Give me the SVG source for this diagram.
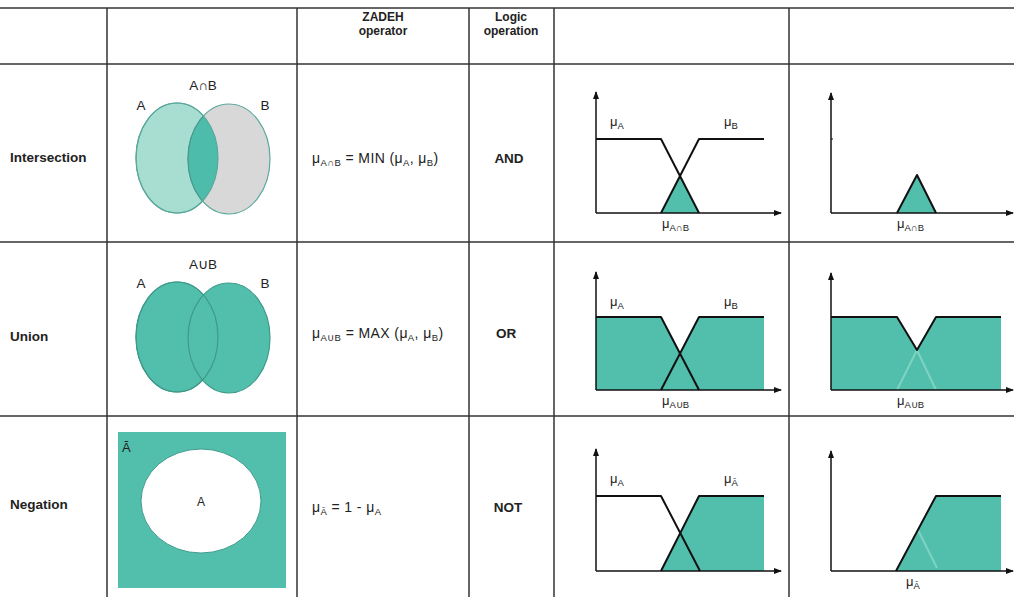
<svg xmlns="http://www.w3.org/2000/svg" width="1014" height="597" viewBox="0 0 1014 597">
<style>
text{font-family:"Liberation Sans",Arial,sans-serif;fill:#222}
.hd{font-size:12px;font-weight:bold;text-anchor:middle}
.rl{font-size:13.5px;font-weight:bold}
.op{font-size:13.5px;font-weight:bold;text-anchor:middle}
.fm{font-size:14px;letter-spacing:0.4px}
.sub{font-size:9.5px}
.lb{font-size:13px}
.vl{font-size:13.5px;text-anchor:middle}
.grid line{stroke:#333;stroke-width:1.5}
.ax{stroke:#111;stroke-width:1.5;fill:none}
.cv{stroke:#111;stroke-width:2;fill:none;stroke-linejoin:round}
.fl{fill:#52bfac;stroke:none}
.faint{stroke:#7fd3c3;stroke-width:2;fill:none}
</style>
<defs>
<marker id="ar" markerWidth="8" markerHeight="8" refX="7" refY="4" orient="auto" markerUnits="userSpaceOnUse">
<path d="M0,1 L8,4 L0,7 Z" fill="#111"/>
</marker>
<clipPath id="cA"><ellipse cx="177" cy="158" rx="41" ry="55"/></clipPath>
</defs>
<rect width="1014" height="597" fill="#fff"/>
<g id="grid" class="grid">
<line x1="0" y1="8" x2="1014" y2="8"/>
<line x1="0" y1="64" x2="1014" y2="64"/>
<line x1="0" y1="242" x2="1014" y2="242"/>
<line x1="0" y1="416" x2="1014" y2="416"/>
<line x1="107" y1="8" x2="107" y2="597"/>
<line x1="297" y1="8" x2="297" y2="597"/>
<line x1="469" y1="8" x2="469" y2="597"/>
<line x1="554" y1="8" x2="554" y2="597"/>
<line x1="789" y1="8" x2="789" y2="597"/>
</g>
<g id="header">
<text class="hd" x="383" y="21">ZADEH</text>
<text class="hd" x="383" y="35">operator</text>
<text class="hd" x="511" y="21">Logic</text>
<text class="hd" x="511" y="35">operation</text>
</g>
<g id="row-labels">
<text class="rl" x="10" y="162">Intersection</text>
<text class="rl" x="10" y="341">Union</text>
<text class="rl" x="10" y="509">Negation</text>
</g>
<g id="venn-intersection">
<ellipse cx="177" cy="158" rx="41" ry="55" fill="#a8ddd2" stroke="#5aa99b" stroke-width="1.2"/>
<ellipse cx="229" cy="159" rx="41" ry="55" fill="#d8d8d8" stroke="#5aa99b" stroke-width="1.2"/>
<ellipse cx="229" cy="159" rx="41" ry="55" fill="#4dbcaa" stroke="#4a9a8c" stroke-width="1.2" clip-path="url(#cA)"/>
<ellipse cx="177" cy="158" rx="41" ry="55" fill="none" stroke="#5aa99b" stroke-width="1.2"/>
<text class="vl" x="203" y="90">A∩B</text>
<text class="vl" x="141" y="110">A</text>
<text class="vl" x="265" y="110">B</text>
</g>
<g id="venn-union">
<ellipse cx="177" cy="337" rx="41" ry="55" fill="#52bfac" stroke="#3f9a8b" stroke-width="1.2"/>
<ellipse cx="229" cy="338" rx="41" ry="55" fill="#52bfac" stroke="#3f9a8b" stroke-width="1.2"/>
<ellipse cx="177" cy="337" rx="41" ry="55" fill="none" stroke="#3f9a8b" stroke-width="1.2"/>
<text class="vl" x="203" y="269">A∪B</text>
<text class="vl" x="141" y="288">A</text>
<text class="vl" x="265" y="288">B</text>
</g>
<g id="venn-negation">
<rect x="118" y="432" width="168" height="156" fill="#52bfac"/>
<ellipse cx="201" cy="501" rx="60" ry="52" fill="#fff" stroke="#3f9a8b" stroke-width="1"/>
<text class="lb" x="122" y="452">Ā</text>
<text class="vl" x="201" y="506" style="font-size:12px">A</text>
</g>
<g id="formulas">
<text class="fm" x="312" y="163">μ<tspan class="sub" dy="3">A∩B</tspan><tspan dy="-3"> = MIN (μ</tspan><tspan class="sub" dy="3">A</tspan><tspan dy="-3">, μ</tspan><tspan class="sub" dy="3">B</tspan><tspan dy="-3">)</tspan></text>
<text class="fm" x="312" y="338">μ<tspan class="sub" dy="3">A∪B</tspan><tspan dy="-3"> = MAX (μ</tspan><tspan class="sub" dy="3">A</tspan><tspan dy="-3">, μ</tspan><tspan class="sub" dy="3">B</tspan><tspan dy="-3">)</tspan></text>
<text class="fm" x="312" y="512">μ<tspan class="sub" dy="3">Ā</tspan><tspan dy="-3"> = 1 - μ</tspan><tspan class="sub" dy="3">A</tspan></text>
</g>
<g id="logic-ops">
<text class="op" x="509" y="163">AND</text>
<text class="op" x="506" y="338">OR</text>
<text class="op" x="508" y="512">NOT</text>
</g>
<g id="graph-intersection-1">
<polygon class="fl" points="661,213 680,176 699,213"/>
<polyline class="cv" points="596,139 661,139 699,213"/>
<polyline class="cv" points="661,213 699,139 764,139"/>
<line class="ax" x1="596" y1="213" x2="596" y2="92" marker-end="url(#ar)"/>
<line class="ax" x1="596" y1="213" x2="781" y2="213" marker-end="url(#ar)"/>
<text class="lb" x="610" y="126">μ<tspan class="sub" dy="3">A</tspan></text>
<text class="lb" x="724" y="126">μ<tspan class="sub" dy="3">B</tspan></text>
<text class="lb" x="662" y="228">μ<tspan class="sub" dy="3">A∩B</tspan></text>
</g>
<g id="graph-intersection-2">
<polygon class="fl" points="897,213 917,175 936,213"/>
<polyline class="cv" points="897,213 917,175 936,213"/>
<line x1="831" y1="139" x2="833" y2="139" stroke="#555" stroke-width="1.5"/>
<line class="ax" x1="831" y1="213" x2="831" y2="93" marker-end="url(#ar)"/>
<line class="ax" x1="831" y1="213" x2="1013" y2="213" marker-end="url(#ar)"/>
<text class="lb" x="897" y="228">μ<tspan class="sub" dy="3">A∩B</tspan></text>
</g>
<g id="graph-union-1">
<polygon class="fl" points="596,390 596,317 661,317 680,353 699,317 764,317 764,390"/>
<polyline class="cv" points="596,317 661,317 699,390"/>
<polyline class="cv" points="661,390 699,317 764,317"/>
<line class="ax" x1="596" y1="390" x2="596" y2="272" marker-end="url(#ar)"/>
<line class="ax" x1="596" y1="390" x2="781" y2="390" marker-end="url(#ar)"/>
<text class="lb" x="610" y="306">μ<tspan class="sub" dy="3">A</tspan></text>
<text class="lb" x="724" y="306">μ<tspan class="sub" dy="3">B</tspan></text>
<text class="lb" x="662" y="405">μ<tspan class="sub" dy="3">A∪B</tspan></text>
</g>
<g id="graph-union-2">
<polygon class="fl" points="831,390 831,317 897,317 917,350 936,317 1001,317 1001,390"/>
<polyline class="faint" points="897,390 917,350 936,390"/>
<polyline class="cv" points="831,317 897,317 917,350 936,317 1001,317"/>
<line class="ax" x1="831" y1="390" x2="831" y2="273" marker-end="url(#ar)"/>
<line class="ax" x1="831" y1="390" x2="1013" y2="390" marker-end="url(#ar)"/>
<text class="lb" x="897" y="405">μ<tspan class="sub" dy="3">A∪B</tspan></text>
</g>
<g id="graph-negation-1">
<polygon class="fl" points="661,571 699,496 764,496 764,571"/>
<polyline class="cv" points="596,496 661,496 700,571"/>
<polyline class="cv" points="661,571 699,496 764,496"/>
<line class="ax" x1="596" y1="571" x2="596" y2="449" marker-end="url(#ar)"/>
<line class="ax" x1="596" y1="571" x2="781" y2="571" marker-end="url(#ar)"/>
<text class="lb" x="610" y="483">μ<tspan class="sub" dy="3">A</tspan></text>
<text class="lb" x="724" y="483">μ<tspan class="sub" dy="3">Ā</tspan></text>
</g>
<g id="graph-negation-2">
<polygon class="fl" points="896,571 936,496 1001,496 1001,571"/>
<line class="faint" x1="918" y1="530" x2="937" y2="568"/>
<polyline class="cv" points="896,571 936,496 1001,496"/>
<line class="ax" x1="831" y1="571" x2="831" y2="451" marker-end="url(#ar)"/>
<line class="ax" x1="831" y1="571" x2="1013" y2="571" marker-end="url(#ar)"/>
<text class="lb" x="906" y="586">μ<tspan class="sub" dy="3">Ā</tspan></text>
</g>
</svg>
